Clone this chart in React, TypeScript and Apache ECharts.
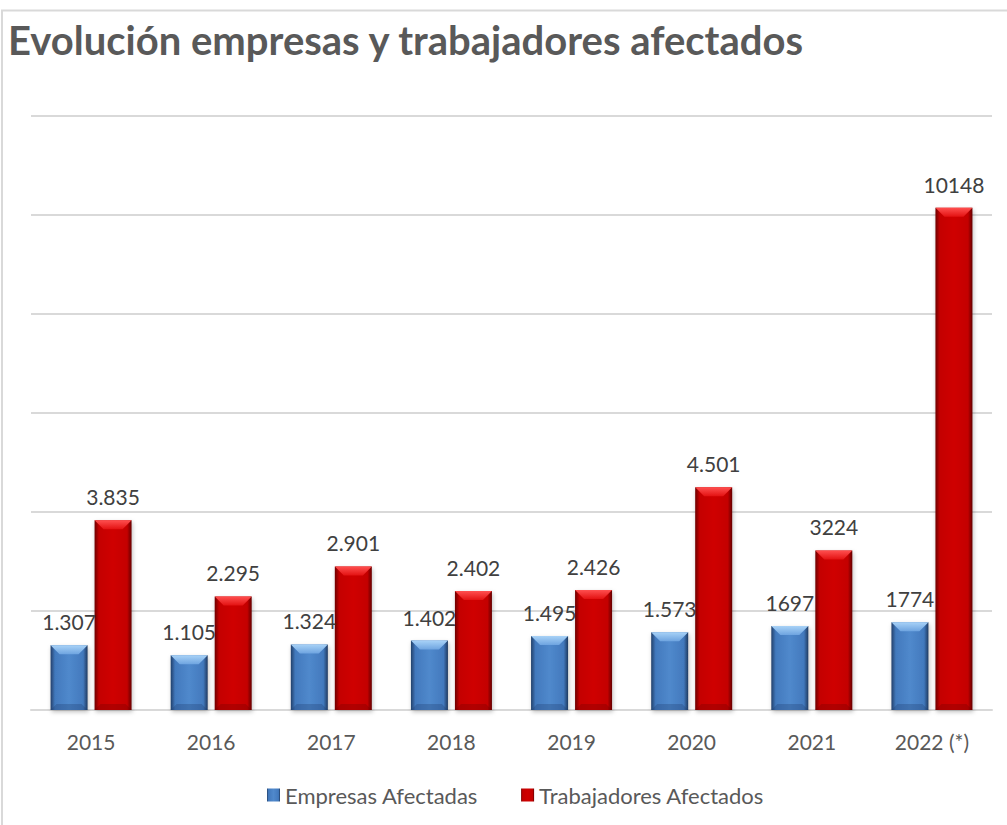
import React, { useEffect, useRef } from "react";
import * as echarts from "echarts";

const categories = ["2015", "2016", "2017", "2018", "2019", "2020", "2021", "2022 (*)"];
const empresas = [1307, 1105, 1324, 1402, 1495, 1573, 1697, 1774];
const trabajadores = [3835, 2295, 2901, 2402, 2426, 4501, 3224, 10148];
const empresasLabels = ["1.307", "1.105", "1.324", "1.402", "1.495", "1.573", "1697", "1774"];
const trabajadoresLabels = ["3.835", "2.295", "2.901", "2.402", "2.426", "4.501", "3224", "10148"];

const BAR_W = 37;
const BAR_GAP = 7;
const FONT = "Lato, 'Open Sans', sans-serif";

function bodyGradient(edgeL: string, mid: string, center: string, edgeR: string) {
  return new echarts.graphic.LinearGradient(0, 0, 1, 0, [
    { offset: 0, color: edgeL },
    { offset: 0.12, color: mid },
    { offset: 0.5, color: center },
    { offset: 0.88, color: mid },
    { offset: 1, color: edgeR },
  ]);
}

function bevelSeries(values: number[], side: number, top1: string, top2: string, bottom: string) {
  return {
    type: "custom",
    silent: true,
    z: 3,
    data: values.map((v, i) => [i, v]),
    encode: { x: 0, y: 1 },
    renderItem: (params: any, api: any) => {
      const idx = api.value(0);
      const val = api.value(1);
      const pTop = api.coord([idx, val]);
      const pBase = api.coord([idx, 0]);
      const total = BAR_W * 2 + BAR_GAP;
      const cx = side < 0 ? pTop[0] - total / 2 + BAR_W / 2 : pTop[0] + total / 2 - BAR_W / 2;
      const x0 = cx - BAR_W / 2;
      const x1 = cx + BAR_W / 2;
      const yT = pTop[1];
      const yB = pBase[1];
      const b = 9;
      return {
        type: "group",
        children: [
          {
            type: "polygon",
            shape: { points: [[x0, yT], [x1, yT], [x1 - b, yT + b], [x0 + b, yT + b]] },
            style: {
              fill: new echarts.graphic.LinearGradient(0, 0, 0, 1, [
                { offset: 0, color: top1 },
                { offset: 1, color: top2 },
              ]),
            },
          },
          {
            type: "polygon",
            shape: { points: [[x0, yB], [x1, yB], [x1 - 6, yB - 6], [x0 + 6, yB - 6]] },
            style: { fill: bottom },
          },
        ],
      };
    },
  };
}

export default function App() {
  const ref = useRef<HTMLDivElement>(null);
  useEffect(() => {
    if (!ref.current) return;
    const chart = echarts.init(ref.current, undefined, { renderer: "svg" });
    const labelStyle = {
      show: true,
      position: "top",
      distance: 13,
      fontSize: 21,
      color: "#404040",
      fontFamily: FONT,
    };
    chart.setOption({
      animation: false,
      backgroundColor: "#ffffff",
      textStyle: { fontFamily: FONT },
      title: {
        text: "Evolución empresas y trabajadores afectados",
        left: 3,
        top: 15,
        textStyle: { fontSize: 40, fontWeight: "bold", color: "#595959", fontFamily: FONT },
      },
      graphic: [
        {
          type: "rect",
          shape: { x: 2, y: 10.5, width: 1020, height: 830 },
          style: { fill: "none", stroke: "#d9d9d9", lineWidth: 2 },
          silent: true,
        },
      ],
      legend: {
        left: 262,
        top: 779,
        itemWidth: 13,
        itemHeight: 13,
        itemGap: 43,
        icon: "rect",
        textStyle: { fontSize: 22, color: "#595959", fontFamily: FONT },
        data: ["Empresas Afectadas", "Trabajadores Afectados"],
      },
      grid: { left: 31, right: 15, top: 116, bottom: 115 },
      xAxis: {
        type: "category",
        data: categories,
        axisLine: { lineStyle: { color: "#d9d9d9", width: 2 } },
        axisTick: { show: false },
        axisLabel: { fontSize: 21, color: "#595959", margin: 21, fontFamily: FONT },
      },
      yAxis: {
        type: "value",
        min: 0,
        max: 12000,
        interval: 2000,
        axisLabel: { show: false },
        axisLine: { show: false },
        axisTick: { show: false },
        splitLine: { lineStyle: { color: "#d9d9d9", width: 2 } },
      },
      series: [
        {
          name: "Empresas Afectadas",
          type: "bar",
          data: empresas,
          barWidth: BAR_W,
          barGap: (BAR_GAP / BAR_W) * 100 + "%",
          itemStyle: {
            color: bodyGradient("#22406a", "#4279bd", "#5089cc", "#1f3a60"),
            shadowColor: "rgba(0,0,0,0.25)",
            shadowBlur: 4,
            shadowOffsetX: 1,
            shadowOffsetY: 2,
          },
          label: { ...labelStyle, formatter: (p: any) => empresasLabels[p.dataIndex] },
          z: 2,
        },
        {
          name: "Trabajadores Afectados",
          type: "bar",
          data: trabajadores,
          barWidth: BAR_W,
          itemStyle: {
            color: bodyGradient("#6e0000", "#c40000", "#cf0000", "#640000"),
            shadowColor: "rgba(0,0,0,0.25)",
            shadowBlur: 4,
            shadowOffsetX: 1,
            shadowOffsetY: 2,
          },
          label: { ...labelStyle, formatter: (p: any) => trabajadoresLabels[p.dataIndex] },
          z: 2,
        },
        bevelSeries(empresas, -1, "#a8d2f7", "#6ea4e0", "rgba(30,60,110,0.3)"),
        bevelSeries(trabajadores, 1, "#ff5050", "#e31212", "rgba(110,0,0,0.3)"),
      ],
    });
    return () => chart.dispose();
  }, []);
  return (
    <div
      ref={ref}
      style={{ position: "absolute", left: 0, top: 0, width: 1007, height: 825 }}
    />
  );
}
